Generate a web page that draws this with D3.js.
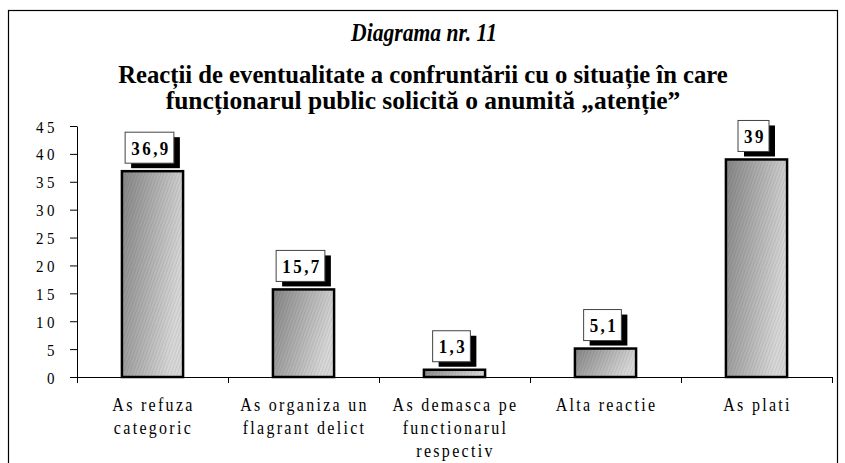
<!DOCTYPE html>
<html>
<head>
<meta charset="utf-8">
<script src="https://cdn.jsdelivr.net/npm/d3@7"></script>
<style>
  html, body { margin: 0; padding: 0; background: #fff; }
  svg { display: block; }
</style>
</head>
<body>
<svg id="chart" width="845" height="463"></svg>
<script>
// Reacții la solicitarea unei "atenții" (%)
const categories = [
  "As refuza categoric",
  "As organiza un flagrant delict",
  "As demasca pe functionarul respectiv",
  "Alta reactie",
  "As plati"
];
const categoryLines = [
  ["As refuza", "categoric"],
  ["As organiza un", "flagrant delict"],
  ["As demasca pe", "functionarul", "respectiv"],
  ["Alta reactie"],
  ["As plati"]
];
const values = [36.9, 15.7, 1.3, 5.1, 39];
const yTicks = [0, 5, 10, 15, 20, 25, 30, 35, 40, 45];

const title = "Diagrama nr. 11";
const subtitle = [
  "Reacții de eventualitate a confruntării cu o situație în care",
  "funcționarul public solicită o anumită „atenție”"
];

const SERIF = "Liberation Serif";
const svg = d3.select("#chart");
const plot = { left: 77, right: 832, top: 126, bottom: 377 };

// Narrow, tall serif text: size by target width, then stretch vertically to the cap height
function fittedText(parent, str, cx, baseline, width, cap, opts) {
  const t = parent.append("text")
    .attr("font-family", SERIF)
    .attr("font-weight", opts.weight || "normal")
    .attr("font-style", opts.style || "normal")
    .attr("font-size", 20)
    .attr("text-anchor", "middle")
    .text(str);
  const w = t.node().getComputedTextLength();
  const fs = 20 * width / w;
  const k = cap / (0.66 * fs);
  t.attr("font-size", fs)
    .attr("x", 0).attr("y", 0)
    .attr("transform", `translate(${cx},${baseline}) scale(1,${k})`);
  return t;
}

// Fill for the bars: diagonal grey shading with a fine hatch texture
const defs = svg.append("defs");
const grad = defs.append("linearGradient")
  .attr("id", "barGrad")
  .attr("x1", "0").attr("y1", "0").attr("x2", "1").attr("y2", "0.35");
grad.append("stop").attr("offset", "0").attr("stop-color", "#858585");
grad.append("stop").attr("offset", "0.55").attr("stop-color", "#b2b2b2");
grad.append("stop").attr("offset", "1").attr("stop-color", "#d8d8d8");

const hatch = defs.append("pattern")
  .attr("id", "barHatch")
  .attr("patternUnits", "userSpaceOnUse")
  .attr("width", 3).attr("height", 3)
  .attr("patternTransform", "rotate(20)");
hatch.append("rect").attr("width", 1).attr("height", 3).attr("fill", "#000").attr("opacity", 0.08);

// Outer frame
svg.append("rect")
  .attr("x", 8.5).attr("y", 10.5)
  .attr("width", 829).attr("height", 470)
  .attr("fill", "none").attr("stroke", "#000").attr("stroke-width", 1.2);

// Titles
const titles = svg.append("g");
fittedText(titles, title, 424, 41, 146, 17, { weight: "bold", style: "italic" });
fittedText(titles, subtitle[0], 423, 83, 610, 16, { weight: "bold" });
fittedText(titles, subtitle[1], 423, 109, 515, 16, { weight: "bold" });

// Scales
const x = d3.scaleBand().domain(categories).range([plot.left, plot.right]).padding(0);
const y = d3.scaleLinear().domain([0, 45]).range([plot.bottom, plot.top]);
const barW = x.bandwidth() * 0.405;

// Y axis
const yAxis = svg.append("g")
  .attr("transform", `translate(${plot.left},0)`)
  .call(d3.axisLeft(y).tickValues(yTicks).tickSize(7).tickPadding(12).tickSizeOuter(0));
yAxis.select(".domain").attr("stroke", "#000");
yAxis.selectAll(".tick line").attr("stroke", "#000");
yAxis.selectAll(".tick text")
  .attr("font-family", SERIF)
  .attr("font-size", 15)
  .attr("letter-spacing", "3.5px")
  .attr("fill", "#000")
  .attr("dy", "0.36em")
  .attr("transform", "scale(1,1.12)");

// X axis: baseline with ticks at category boundaries
const edges = categories.map(c => x(c)).concat([plot.right]);
const xEdge = d3.scaleLinear().domain([plot.left, plot.right]).range([plot.left, plot.right]);
const xAxis = svg.append("g")
  .attr("transform", `translate(0,${plot.bottom})`)
  .call(d3.axisBottom(xEdge).tickValues(edges).tickSize(6).tickFormat("").tickSizeOuter(0));
xAxis.select(".domain").attr("stroke", "#000");
xAxis.selectAll(".tick line").attr("stroke", "#000");

// Category labels
const catG = svg.append("g");
categoryLines.forEach((lines, i) => {
  const cx = x(categories[i]) + x.bandwidth() / 2;
  lines.forEach((line, j) => {
    catG.append("text")
      .attr("font-family", SERIF)
      .attr("font-size", 16)
      .attr("letter-spacing", "2.3px")
      .attr("text-anchor", "middle")
      .attr("transform", `translate(${cx + 1},${411 + j * 23}) scale(1,1.12)`)
      .text(line);
  });
});

// Bars
const data = categories.map((c, i) => ({ c, v: values[i] }));
const bars = svg.append("g");
bars.selectAll("rect.bar")
  .data(data)
  .join("rect")
  .attr("class", "bar")
  .attr("x", d => x(d.c) + x.bandwidth() / 2 - barW / 2)
  .attr("y", d => y(d.v))
  .attr("width", barW)
  .attr("height", d => y(0) - y(d.v))
  .attr("fill", "url(#barGrad)")
  .attr("stroke", "#000")
  .attr("stroke-width", 2.5);
bars.selectAll("rect.hatch")
  .data(data)
  .join("rect")
  .attr("class", "hatch")
  .attr("x", d => x(d.c) + x.bandwidth() / 2 - barW / 2 + 1.5)
  .attr("y", d => y(d.v) + 1.5)
  .attr("width", barW - 3)
  .attr("height", d => Math.max(0, y(0) - y(d.v) - 3))
  .attr("fill", "url(#barHatch)");

// Value labels: white boxes with a black drop shadow
const fmt = v => d3.format(".1~f")(v).replace(".", ",");
const labels = svg.append("g");
data.forEach(d => {
  const g = labels.append("g");
  const cx = x(d.c) + x.bandwidth() / 2 - 3;
  const t = g.append("text")
    .attr("font-family", SERIF)
    .attr("font-size", 17)
    .attr("font-weight", "bold")
    .attr("letter-spacing", "2.5px")
    .attr("text-anchor", "middle")
    .text(fmt(d.v));
  const tw = t.node().getComputedTextLength();
  const bw = tw + 9, bh = 31;
  const bottom = y(d.v) - 8;
  const bx = cx - bw / 2, by = bottom - bh;
  g.insert("rect", "text")
    .attr("x", bx + 6).attr("y", by + 5)
    .attr("width", bw).attr("height", bh)
    .attr("fill", "#000");
  g.insert("rect", "text")
    .attr("x", bx).attr("y", by)
    .attr("width", bw).attr("height", bh)
    .attr("fill", "#fff").attr("stroke", "#444").attr("stroke-width", 1);
  t.attr("transform", `translate(${cx + 1.5},${by + bh / 2 + 7}) scale(1,1.15)`);
});
</script>
</body>
</html>
